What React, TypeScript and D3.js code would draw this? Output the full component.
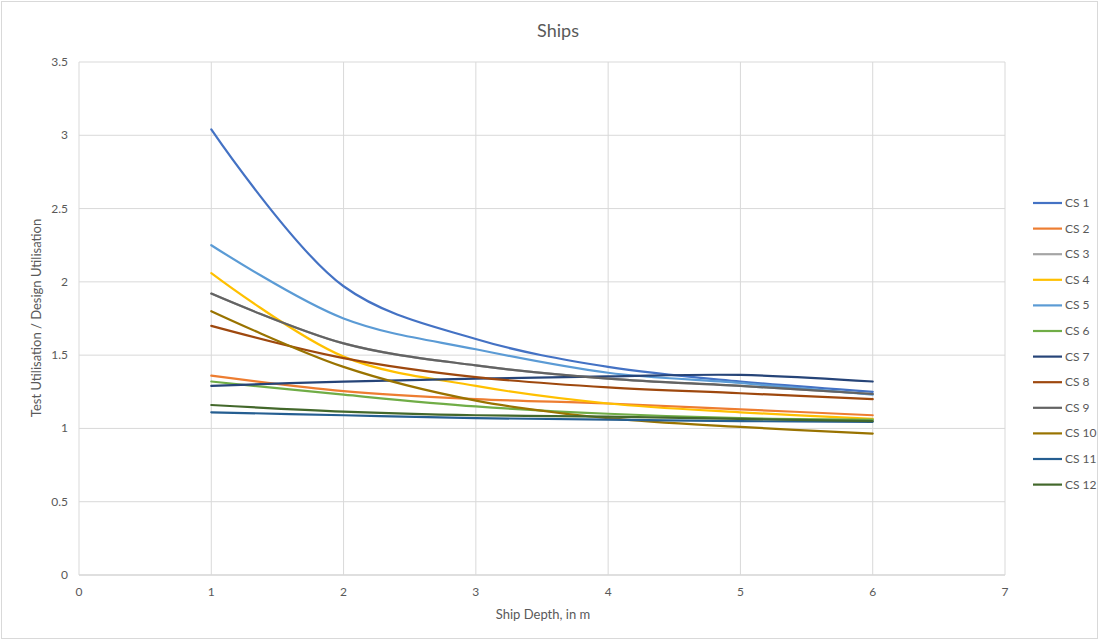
import React from "react";
import * as d3 from "d3";

const depths = [1, 2, 3, 4, 5, 6];
const seriesNames = ["CS 1","CS 2","CS 3","CS 4","CS 5","CS 6","CS 7","CS 8","CS 9","CS 10","CS 11","CS 12"];
const cs1 = [3.04, 1.97, 1.61, 1.42, 1.32, 1.25];
const cs2 = [1.36, 1.255, 1.20, 1.17, 1.13, 1.09];
const cs3 = [1.92, 1.58, 1.43, 1.34, 1.29, 1.235];
const cs4 = [2.06, 1.49, 1.29, 1.17, 1.11, 1.065];
const cs5 = [2.25, 1.75, 1.54, 1.38, 1.31, 1.23];
const cs6 = [1.32, 1.23, 1.15, 1.10, 1.07, 1.06];
const cs7 = [1.29, 1.32, 1.34, 1.355, 1.365, 1.32];
const cs8 = [1.70, 1.48, 1.35, 1.28, 1.24, 1.20];
const cs9 = [1.92, 1.58, 1.43, 1.34, 1.29, 1.235];
const cs10 = [1.80, 1.42, 1.19, 1.07, 1.01, 0.965];
const cs11 = [1.11, 1.09, 1.07, 1.06, 1.05, 1.045];
const cs12 = [1.16, 1.115, 1.09, 1.08, 1.065, 1.05];
const allSeries = [cs1, cs2, cs3, cs4, cs5, cs6, cs7, cs8, cs9, cs10, cs11, cs12];
const colors = ["#4472C4","#ED7D31","#A5A5A5","#FFC000","#5B9BD5","#70AD47","#264478","#9E480E","#636363","#997300","#255E91","#43682B"];
const xTicks = [0, 1, 2, 3, 4, 5, 6, 7];
const yTicks = [0, 0.5, 1, 1.5, 2, 2.5, 3, 3.5];

const FONT = "Lato, 'Open Sans', sans-serif";
const TXT = "#595959";

export default function App() {
  const x = d3.scaleLinear().domain([0, 7]).range([79, 1005]);
  const y = d3.scaleLinear().domain([0, 3.5]).range([575, 62]);
  const line = d3
    .line<[number, number]>()
    .x((d) => x(d[0]))
    .y((d) => y(d[1]))
    .curve(d3.curveCatmullRom.alpha(0.5));

  return (
    <svg width={1099} height={640} style={{ position: "absolute", left: 0, top: 0, background: "#fff" }} fontFamily={FONT}>
      <rect x={1.5} y={1.5} width={1096} height={637} fill="#fff" stroke="#D9D9D9" />
      <text x={558} y={37} textAnchor="middle" fontSize={18} fill={TXT}>Ships</text>
      {yTicks.map((t) => (
        <g key={"y" + t}>
          <line x1={79} x2={1005} y1={y(t)} y2={y(t)} stroke={t === 0 ? "#BFBFBF" : "#D9D9D9"} strokeWidth={1} />
          <text x={68} y={y(t) + 4} textAnchor="end" fontSize={12} fill={TXT}>{t}</text>
        </g>
      ))}
      {xTicks.map((t) => (
        <g key={"x" + t}>
          <line x1={x(t)} x2={x(t)} y1={62} y2={575} stroke="#D9D9D9" strokeWidth={1} />
          <text x={x(t)} y={596} textAnchor="middle" fontSize={12} fill={TXT}>{t}</text>
        </g>
      ))}
      <text x={543} y={619} textAnchor="middle" fontSize={13} fill={TXT}>Ship Depth, in m</text>
      <text transform={`translate(41,318) rotate(-90)`} textAnchor="middle" fontSize={13} fill={TXT}>Test Utilisation / Design Utilisation</text>
      {allSeries.map((s, i) => (
        <path key={"s" + i} d={line(s.map((v, j) => [depths[j], v] as [number, number])) || ""} fill="none" stroke={colors[i]} strokeWidth={2.2} strokeLinecap="round" />
      ))}
      {seriesNames.map((n, i) => {
        const ly = 203 + i * 25.6;
        return (
          <g key={"l" + i}>
            <line x1={1033} x2={1062} y1={ly} y2={ly} stroke={colors[i]} strokeWidth={2.2} />
            <text x={1065} y={ly + 4} fontSize={12} fill={TXT}>{n}</text>
          </g>
        );
      })}
    </svg>
  );
}
